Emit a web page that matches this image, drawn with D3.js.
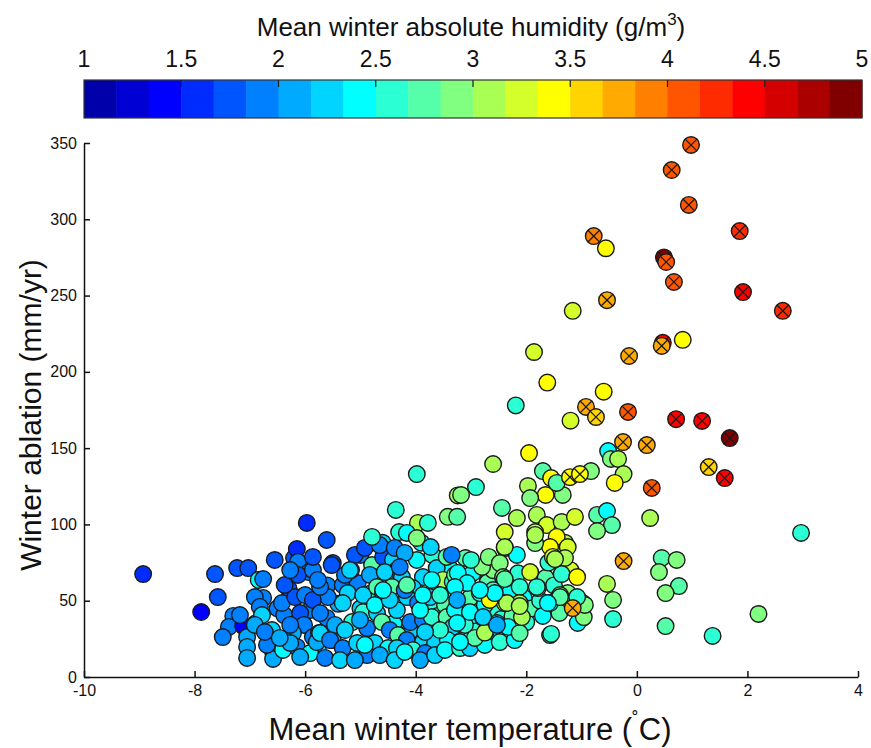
<html>
<head>
  <meta charset="UTF-8">
  <title>Winter ablation vs temperature</title>
  <script src="https://d3js.org/d3.v7.min.js"></script>
  <style>
    body { margin: 0; background: white; }
    svg text { font-family: "Liberation Sans", Arial, Helvetica, sans-serif; fill: #111; }
  </style>
</head>
<body>
<svg></svg>
<script>

    // Data (temperature degC, ablation mm/yr, humidity g/m3)

    const temp = [
        // back layer of the dense cloud
        -3.90, -3.75, -3.60, -3.45, -3.30, -3.15, -3.00, -2.90, -2.85, -2.70, -2.60, -2.55,
        -2.45, -2.30, -2.25, -2.15, -2.05, -2.00, -1.90, -1.75, -1.70, -1.65, -1.50, -1.40,
        -1.25, -1.20, -1.30, -1.60, -2.60, -2.90, -3.10, -3.40, -3.70, -3.90, -4.30, -4.60,
        -5.00, -3.60, -3.30, -3.00, -2.70, -4.10, -4.40, -4.80, -5.00, -5.40, -5.60, -6.50,
        -6.30, -6.90, -7.30, -6.20,
        // left part
        -8.93, -7.88, -7.63, -7.58, -7.23, -7.03, -7.38, -7.49, -7.12, -7.05, -7.05, -7.05,
        -6.84, -6.76, -6.76, -6.91, -6.82, -6.78, -6.58, -6.58, -6.69, -6.40, -6.60, -6.38,
        -6.42, -5.97, -6.15, -6.13, -5.93, -6.13, -6.18, -6.00, -5.91, -6.09, -6.02, -6.22,
        -6.15, -5.86, -5.75, -5.61, -5.50, -5.59, -5.61, -5.77, -5.50, -6.27, -5.91, -5.79,
        -5.86, -5.86, -5.52, -5.32, -5.05, -5.73, -5.23, -4.95, -5.17, -4.79, -4.59, -4.41,
        -4.34, -3.98, -4.83, -4.56, -4.25, -3.87, -3.62, -3.51, -3.33, -5.32, -4.70, -4.43,
        -4.59, -4.05, -4.16, -3.96, -3.74, -3.47, -3.25, -4.95, -4.70, -4.34, -4.10, -3.87,
        -3.71, -3.44, -3.33, -5.73, -5.46, -5.15, -4.88, -4.61, -4.47, -4.32, -4.16, -3.87,
        -3.65, -3.42, -5.73, -5.55, -5.32, -5.06, -4.74, -4.50, -4.34, -4.05, -3.83, -4.88,
        // fill of the dense band
        -7.18, -6.91, -6.73, -6.46, -6.27, -6.09, -5.64, -5.37, -5.10, -4.92, -4.65, -4.38,
        -4.20, -3.92, -3.65, -3.47, -3.20, -3.02, -2.75, -2.48, -2.21, -5.28, -5.01, -4.74,
        -4.47, -4.20, -3.92, -3.56, -3.29, -3.11, -3.02, -2.75, -3.56, -3.83, -5.28, -5.10,
        -4.92, -4.65, -4.38, -4.20, -5.77, -6.37, -6.27, -6.55, -5.86, -5.19, -4.29, -4.59,
        -4.16, -3.87, -3.71, -3.29, -3.15, -2.97, -2.80,
        // upper middle
        -3.98, -3.24, -4.36, -3.96, -3.78, -3.42, -3.25, -4.79, -4.16, -3.98, -3.73, -3.44,
        -3.35,
        // right part of the cloud
        -2.60, -2.91, -3.18, -1.95, -1.70, -1.55, -1.97, -1.65, -1.34, -0.83, -1.93, -2.44,
        -2.17, -2.39, -1.81, -1.63, -1.36, -1.12, -1.45, -1.84, -1.57, -1.84, -2.39, -1.25,
        -2.17, -2.68, -2.48, -1.52, -1.30, -1.93, -1.36, -1.08, -3.00, -3.24, -2.12, -1.79,
        -2.42, -2.60, -2.84, -3.07, -2.66, -2.39, -2.12, -1.57, -1.39, -0.98, -0.98, -3.29,
        -3.25, -2.78, -2.53, -3.02, -3.25, -2.33, -2.12, -2.93, -3.20, -1.57, -2.08, -2.75,
        -0.72, -0.54, -0.45, -0.72, -0.52, -0.47, -0.34, -0.24, -0.40, -1.45, -0.54, -0.43,
        -0.43, 0.24, 0.45, 0.72, 0.40, 0.76, 0.52, 0.52, 1.37, 2.20, 2.97, -1.55,
        -1.07, -0.96, -0.94, -1.08, -1.39, -1.61, -2.35, -2.12, -2.66, -2.57, -2.84, -1.81,
        -2.39, -1.48, -2.39, -1.84, -2.78, -2.53,
        // sparse upper points
        -0.56, -1.16, -1.86, -1.62, -0.60, -2.19, -1.20, 0.83
    ];

    const ablation = [
        45.0, 48.0, 40.0, 57.0, 52.0, 45.0, 38.0, 30.0, 45.0, 62.0, 44.0, 28.0,
        38.0, 55.0, 40.0, 68.0, 52.0, 36.0, 45.0, 50.0, 40.0, 65.0, 60.0, 42.0,
        55.0, 70.0, 88.0, 75.0, 70.0, 70.0, 78.0, 72.0, 80.0, 88.0, 95.0, 88.0,
        80.0, 30.0, 25.0, 25.0, 24.0, 30.0, 35.0, 55.0, 45.0, 48.0, 60.0, 45.0,
        58.0, 35.0, 40.0, 78.0,
        67.5, 42.6, 67.5, 52.4, 71.4, 71.4, 32.8, 26.2, 33.4, 26.2, 19.7, 12.5,
        63.6, 64.2, 51.8, 52.4, 45.9, 40.6, 16.4, 11.8, 21.0, 17.7, 30.8, 40.6,
        48.5, 101.0, 83.9, 75.4, 68.8, 66.9, 52.4, 53.7, 43.9, 41.9, 34.1, 28.8,
        19.7, 26.2, 28.8, 89.8, 74.7, 52.4, 38.7, 17.7, 24.2, 22.3, 15.7, 22.9,
        50.5, 70.1, 73.4, 60.3, 61.6, 59.0, 55.0, 53.7, 70.1, 73.4, 78.7, 76.7,
        70.1, 76.7, 66.9, 68.8, 65.5, 65.5, 71.4, 63.6, 62.3, 48.5, 59.0, 59.0,
        55.0, 58.3, 52.4, 48.5, 52.4, 47.2, 47.2, 42.6, 41.9, 43.9, 36.0, 37.4,
        39.3, 39.3, 32.8, 41.9, 34.1, 36.0, 32.1, 36.0, 30.8, 27.5, 24.2, 22.9,
        22.3, 24.2, 28.8, 24.2, 19.0, 22.3, 22.3, 19.0, 19.0, 17.7, 15.7, 14.4,
        40.6, 34.1, 29.5, 25.6, 34.1, 13.1, 12.5, 11.1, 11.1, 21.0, 14.4, 11.1,
        16.4, 11.1, 14.4, 17.7, 19.0, 19.0, 21.0, 22.9, 24.2, 30.8, 37.4, 47.2,
        50.5, 57.0, 43.9, 53.7, 43.9, 34.1, 51.8, 47.2, 30.8, 29.5, 66.9, 80.0,
        84.6, 86.5, 84.6, 81.3, 63.6, 60.3, 70.1, 76.7, 78.7, 70.1, 72.1, 57.0,
        60.3, 53.7, 63.6, 66.9, 63.6, 68.2, 72.1,
        133.0, 119.0, 109.5, 101.0, 101.0, 105.0, 105.0, 91.8, 94.4, 91.1, 85.2, 78.7,
        80.0,
        139.6, 124.5, 119.3, 146.8, 135.0, 130.4, 125.2, 119.3, 119.3, 135.0, 117.3, 110.8,
        104.2, 95.0, 106.2, 99.6, 101.6, 104.9, 91.8, 95.0, 85.2, 87.8, 84.5, 85.2,
        80.0, 78.7, 74.7, 78.7, 78.0, 68.8, 67.5, 65.5, 76.7, 68.2, 59.0, 58.3,
        65.5, 57.0, 55.0, 61.6, 51.8, 48.5, 48.5, 48.5, 53.7, 48.5, 38.7, 59.0,
        50.5, 38.7, 35.4, 42.6, 35.4, 32.8, 28.8, 25.6, 22.9, 27.5, 39.3, 29.1,
        106.2, 108.8, 99.6, 95.7, 148.1, 142.9, 142.9, 133.0, 127.2, 127.2, 61.0, 50.5,
        38.0, 104.2, 78.0, 76.7, 68.8, 59.6, 55.0, 33.4, 26.9, 41.3, 94.4, 28.2,
        35.4, 39.3, 47.2, 52.4, 52.4, 48.5, 48.5, 46.5, 50.5, 55.0, 57.0, 59.0,
        64.2, 77.3, 85.2, 93.1, 39.3, 34.1,
        281.0, 240.0, 213.0, 193.0, 187.0, 178.0, 168.0, 221.0
    ];

    const humidity = [
        2.42, 2.58, 2.42, 2.25, 2.58, 2.75, 2.42, 2.58, 2.42, 2.75, 2.58, 2.42,
        2.58, 2.42, 2.75, 2.58, 2.42, 2.58, 2.75, 2.58, 2.42, 2.75, 2.58, 2.75,
        2.92, 3.25, 3.08, 2.58, 2.92, 2.58, 2.75, 2.42, 2.58, 2.42, 2.58, 2.25,
        1.92, 2.25, 2.42, 2.58, 2.42, 2.25, 2.42, 2.42, 2.25, 2.08, 1.92, 1.92,
        1.75, 2.08, 1.92, 1.75,
        1.50, 1.42, 1.75, 1.75, 1.75, 1.75, 1.92, 1.92, 1.42, 2.08, 2.08, 2.08,
        2.42, 1.92, 1.92, 1.92, 1.92, 2.25, 1.92, 2.08, 1.92, 2.42, 2.25, 1.92,
        1.92, 1.58, 1.58, 1.92, 1.92, 1.75, 1.75, 1.92, 1.92, 1.75, 1.92, 2.08,
        1.92, 1.92, 2.25, 1.75, 1.75, 1.92, 1.92, 2.25, 2.08, 2.08, 2.42, 2.08,
        1.75, 1.92, 1.75, 1.92, 1.92, 1.92, 2.25, 2.25, 2.08, 2.75, 1.75, 2.25,
        2.08, 2.42, 2.08, 2.25, 2.25, 2.25, 2.25, 3.08, 2.58, 2.25, 2.75, 2.75,
        2.25, 2.25, 2.25, 1.92, 2.25, 2.75, 2.25, 2.58, 2.25, 2.25, 1.92, 1.92,
        2.58, 2.75, 2.25, 1.92, 2.08, 2.58, 1.92, 2.75, 1.92, 2.75, 1.92, 2.25,
        2.25, 2.42, 2.25, 1.92, 1.92, 2.25, 2.25, 2.42, 2.25, 2.58, 1.92, 1.92,
        1.92, 2.08, 1.92, 2.08, 1.92, 2.08, 1.92, 2.25, 2.08, 2.42, 2.08, 2.25,
        2.42, 2.08, 2.25, 2.42, 2.58, 2.25, 2.42, 2.58, 2.42, 2.25, 2.08, 2.42,
        2.25, 1.92, 2.42, 2.58, 2.42, 2.58, 2.75, 2.42, 2.58, 2.25, 1.92, 1.75,
        1.75, 1.92, 1.92, 2.08, 1.92, 1.75, 1.92, 1.75, 1.75, 2.25, 1.92, 2.42,
        2.75, 2.42, 2.42, 2.75, 2.58, 2.42, 2.92,
        2.62, 3.08, 2.58, 3.00, 2.62, 2.92, 2.75, 2.58, 2.42, 2.92, 2.30, 2.75,
        1.92,
        3.00, 2.62, 2.92, 3.42, 2.75, 3.42, 3.00, 3.42, 2.92, 2.92, 2.92, 2.75,
        3.08, 3.25, 3.08, 3.25, 3.08, 3.25, 3.42, 3.08, 3.42, 2.92, 3.25, 3.25,
        2.42, 2.92, 2.92, 3.25, 3.08, 3.25, 2.58, 3.42, 2.58, 2.42, 2.62, 2.58,
        2.92, 2.58, 2.42, 2.42, 3.42, 3.25, 3.08, 2.42, 2.92, 2.92, 2.75, 2.42,
        2.08, 2.08, 2.25, 2.42, 2.42, 2.42, 2.75, 2.75, 2.42, 2.58, 3.08, 3.08,
        2.75, 2.42, 2.75, 2.92, 2.42, 2.92, 3.08, 3.08, 3.42, 2.75, 3.08, 2.92,
        2.50, 3.08, 2.75, 2.92, 2.92, 2.75, 2.92, 2.75, 2.58, 2.92, 2.62, 2.58,
        2.42, 2.92, 2.92, 2.58, 2.75, 2.42, 3.08, 3.08, 3.42, 2.42, 2.42, 2.58,
        2.75, 3.08, 3.08, 3.08, 2.25, 2.08,
        3.42, 3.25, 3.25, 3.42, 3.42, 2.62, 3.25, 3.42
    ];

    // sites marked with a cross
    const crossTemp = [
        0.98, 0.63, 0.94, 1.86, -0.78, 0.49, 0.53, 0.67, -0.54, 1.92, 2.64, 0.47,
        0.45, -0.14, -0.92, -0.74, -0.16, 0.71, 1.18, 1.68, -0.25, 0.18, 1.30, 1.59,
        0.27, -0.24, -1.16, -1.21, -1.03
    ];
    const crossAblation = [
        348.7, 332.3, 309.4, 292.3, 289.0, 275.0, 272.0, 258.9, 247.0, 252.3, 240.0, 219.0,
        217.0, 210.4, 177.0, 170.4, 173.7, 169.0, 167.8, 156.6, 154.0, 152.0, 137.6, 130.4,
        123.9, 76.0, 45.2, 131.0, 133.0
    ];
    const crossHumidity = [
        4.08, 4.08, 4.08, 4.25, 3.92, 4.92, 4.08, 4.08, 3.75, 4.42, 4.25, 4.42,
        3.75, 3.75, 3.75, 3.58, 4.08, 4.42, 4.42, 4.92, 3.75, 3.75, 3.58, 4.42,
        4.08, 3.75, 3.75, 3.42, 3.42
    ];

    const xTicks = [-10, -8, -6, -4, -2, 0, 2, 4];
    const yTicks = [0, 50, 100, 150, 200, 250, 300, 350];
    const barTicks = [1, 1.5, 2, 2.5, 3, 3.5, 4, 4.5, 5];

    // 24-step jet colour map
    const jet = ["#0000aa", "#0000d4", "#0000ff", "#002bff", "#0055ff", "#0080ff",
                 "#00aaff", "#00d4ff", "#00ffff", "#2bffd4", "#55ffaa", "#80ff80",
                 "#aaff55", "#d4ff2b", "#ffff00", "#ffd400", "#ffaa00", "#ff8000",
                 "#ff5500", "#ff2b00", "#ff0000", "#d40000", "#aa0000", "#800000"];

    // Setup

    const width = 871;
    const height = 748;
    const margins = { top: 143, right: 13, bottom: 71, left: 84 };

    let svg = d3.select("svg")
                .attr("width", width)
                .attr("height", height);

    const xScale = d3.scaleLinear().domain([-10, 4]).range([margins.left, width - margins.right]);
    const yScale = d3.scaleLinear().domain([0, 350]).range([height - margins.bottom, margins.top]);
    const color = d3.scaleQuantize().domain([1, 5]).range(jet);

    // Colour bar

    const barScale = d3.scaleLinear().domain([1, 5]).range([84, 862]);
    const barTop = 80, barHeight = 38;
    const step = 4 / jet.length;

    let bar = svg.append("g").attr("class", "colorbar");
    bar.selectAll("rect.seg")
        .data(jet)
        .join("rect")
        .attr("class", "seg")
        .attr("x", (c, i) => barScale(1 + i * step))
        .attr("width", (c, i) => barScale(1 + (i + 1) * step) - barScale(1 + i * step) + 0.5)
        .attr("y", barTop)
        .attr("height", barHeight)
        .style("fill", c => c);

    bar.append("rect")
        .attr("x", barScale(1)).attr("y", barTop)
        .attr("width", barScale(5) - barScale(1)).attr("height", barHeight)
        .style("fill", "none").style("stroke", "#333").style("stroke-width", 1.2);

    bar.selectAll("line.tick")
        .data(barTicks.slice(1, -1))
        .join("line")
        .attr("class", "tick")
        .attr("x1", d => barScale(d)).attr("x2", d => barScale(d))
        .attr("y1", barTop).attr("y2", barTop + 7)
        .style("stroke", "#222").style("stroke-width", 1.2);

    bar.selectAll("text.lab")
        .data(barTicks)
        .join("text")
        .attr("class", "lab")
        .attr("x", d => barScale(d))
        .attr("y", 67)
        .attr("text-anchor", "middle")
        .style("font-size", "23px")
        .text(d => d);

    let title = svg.append("text")
        .attr("x", 471).attr("y", 36)
        .attr("text-anchor", "middle")
        .style("font-size", "26px")
        .text("Mean winter absolute humidity (g/m");
    title.append("tspan").attr("dy", -11).style("font-size", "17px").text("3");
    title.append("tspan").attr("dy", 11).text(")");

    // Axes

    let leftAxis = d3.axisLeft(yScale).tickValues(yTicks).tickFormat(d => d)
                     .tickSizeInner(-6).tickSizeOuter(0).tickPadding(7);
    svg.append("g")
        .attr("class", "y axis")
        .attr("transform", `translate(${margins.left}, 0)`)
        .call(leftAxis);

    let bottomAxis = d3.axisBottom(xScale).tickValues(xTicks).tickFormat(d => d)
                       .tickSizeInner(-6).tickSizeOuter(0).tickPadding(8);
    svg.append("g")
        .attr("class", "x axis")
        .attr("transform", `translate(0, ${height - margins.bottom})`)
        .call(bottomAxis);

    svg.selectAll(".axis path, .axis line").style("stroke", "#111").style("stroke-width", 1.5);
    svg.selectAll(".axis text").style("font-size", "16px").style("font-family", "Liberation Sans, Arial, sans-serif");

    svg.append("text")
        .attr("transform", "translate(41, 415) rotate(-90)")
        .attr("text-anchor", "middle")
        .style("font-size", "30px")
        .text("Winter ablation (mm/yr)");

    let xt = svg.append("text")
        .attr("x", 470).attr("y", 740)
        .attr("text-anchor", "middle")
        .style("font-size", "31px")
        .text("Mean winter temperature (");
    xt.append("tspan").attr("dy", -13).style("font-size", "20px").text("\u02da");
    xt.append("tspan").attr("dy", 13).text("C)");

    // Plotting

    const r = 8.3;
    let plain = svg.append("g").attr("class", "points");
    temp.forEach((t, i) => {
        plain.append("circle")
            .attr("cx", xScale(t))
            .attr("cy", yScale(ablation[i]))
            .attr("r", r)
            .style("fill", color(humidity[i]))
            .style("stroke", "#1a1a1a")
            .style("stroke-width", 1.4);
    });

    let crossed = svg.append("g").attr("class", "crossed");
    const k = r * 0.68;
    crossTemp.forEach((t, i) => {
        const cx = xScale(t), cy = yScale(crossAblation[i]);
        crossed.append("circle")
            .attr("cx", cx).attr("cy", cy).attr("r", r)
            .style("fill", color(crossHumidity[i]))
            .style("stroke", "#1a1a1a")
            .style("stroke-width", 1.4);
        crossed.append("path")
            .attr("d", `M${cx - k},${cy - k}L${cx + k},${cy + k}M${cx - k},${cy + k}L${cx + k},${cy - k}`)
            .style("stroke", "#1a1a1a")
            .style("stroke-width", 1.3);
    });

</script>
</body>
</html>
